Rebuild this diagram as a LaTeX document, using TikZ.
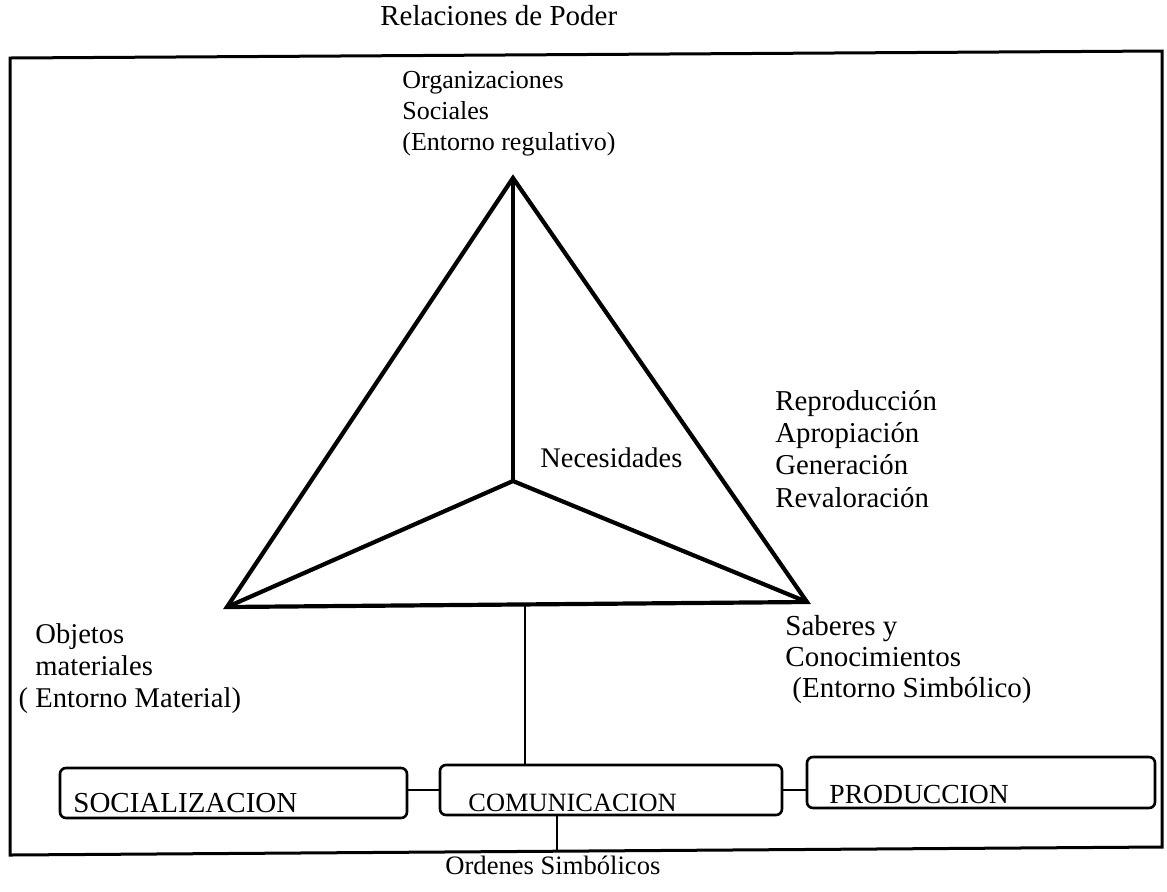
\documentclass[tikz,border=0pt]{standalone}
\usepackage{fontspec}
\setmainfont{Liberation Serif}
% left-aligned stack of lines whose baseline is that of the first line
\newcommand\linestack[1]{\vtop{\let\\\cr\halign{##\hfil\cr#1\crcr}}}
\newcommand\fsz[2]{\fontsize{#1pt}{#2pt}\selectfont}
\begin{document}
\begin{tikzpicture}[x=0.5pt,y=-0.5pt,
  frameline/.style={line width=1.5pt},
  triline/.style={line width=2.1pt,line join=miter},
  boxshape/.style={draw,rectangle,rounded corners=3pt,line width=1.3pt,inner sep=0pt},
  link/.style={line width=1.3pt},
  lbl/.style={inner sep=0pt,anchor=base west,text=black}]
\useasboundingbox (0,0) rectangle (1167,891);

% outer frame
\draw[frameline] (10,58) -- (1162,51) -- (1162,847) -- (10,855) -- cycle;

% triangle of the three environments around the needs
\coordinate (T) at (513,178);
\coordinate (L) at (227,607);
\coordinate (R) at (807,602);
\coordinate (C) at (513,481);
\draw[triline] (L) -- (T) -- (R) -- cycle;
\draw[triline] (T) -- (C);
\draw[triline] (L) -- (C) -- (R);

% process boxes
\node[boxshape,minimum width=173.5pt,minimum height=25pt] (soc) at (233.5,793) {};
\node[boxshape,minimum width=171pt,minimum height=25pt] (com) at (611,790) {};
\node[boxshape,minimum width=174pt,minimum height=25.5pt] (prod) at (981,782.5) {};

\node[lbl] (soct) at (73,812) {\fsz{14.5}{16}SOCIALIZACION};
\node[lbl] (comt) at (468,811) {\fsz{13.2}{15}COMUNICACION};
\node[lbl] (prodt) at (829,803) {\fsz{13.8}{16}PRODUCCION};

% connectors
\draw[link] (com.west) -- (com.west -| soc.east);
\draw[link] (com.east) -- (com.east -| prod.west);
\coordinate (tick) at (525,605);
\draw[link] (tick) -- (tick |- com.north);
\coordinate (ordtop) at (557,851);
\draw[link] (ordtop |- com.south) -- (ordtop);

% labels
\node[lbl] (poder) at (380,25) {\fsz{14.5}{16}Relaciones de Poder};
\node[lbl] (orgs) at (402,88) {\fsz{13}{15.7}\linestack{Organizaciones\\Sociales\\(Entorno regulativo)}};
\node[lbl] (nec) at (540,467) {\fsz{14.2}{16}Necesidades};
\node[lbl] (procs) at (775,410) {\fsz{14.4}{16.2}\linestack{Reproducción\\Apropiación\\Generación\\Revaloración}};
\node[lbl] (sab) at (785,635) {\fsz{14.5}{15.5}\linestack{Saberes y\\Conocimientos\\\kern3.5pt(Entorno Simbólico)}};
\node[lbl] (obj) at (35,643) {\fsz{14.3}{16}\linestack{Objetos\\materiales\\\llap{( }Entorno Material)}};
\node[lbl] (ord) at (445,874) {\fsz{13.3}{15}Ordenes Simbólicos};
\end{tikzpicture}
\end{document}
